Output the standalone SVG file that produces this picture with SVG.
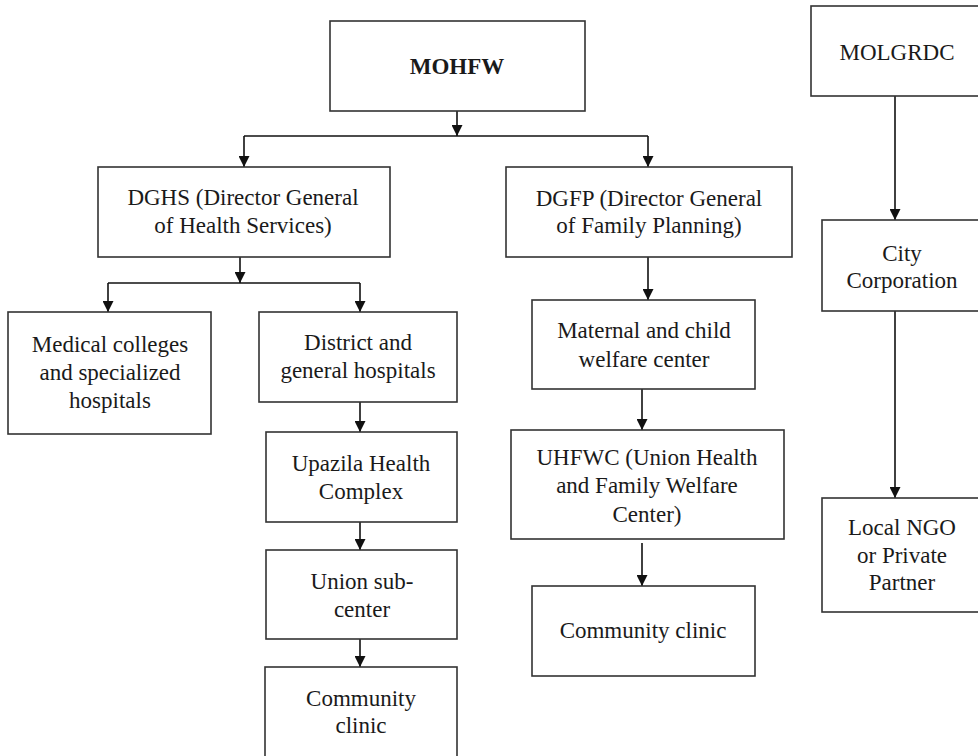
<svg xmlns="http://www.w3.org/2000/svg" width="978" height="756" viewBox="0 0 978 756">
<style>
.box{fill:#fff;stroke:#333;stroke-width:1.6}
.t{font-family:"Liberation Serif","Times New Roman",serif;font-size:23px;fill:#1a1a1a;text-anchor:middle}
.b{font-weight:bold}
.c{stroke:#111;stroke-width:1.6;fill:none}
.a{stroke:#111;stroke-width:1.6;fill:none;marker-end:url(#ah)}
</style>
<defs>
<marker id="ah" viewBox="0 0 10 10" refX="10" refY="5" markerWidth="11" markerHeight="11" markerUnits="userSpaceOnUse" orient="auto">
<path d="M0,0 L10,5 L0,10 z" fill="#111"/>
</marker>
</defs>
<rect width="978" height="756" fill="#fff"/>
<g id="connectors">
<line class="a" x1="457" y1="111" x2="457" y2="136"/>
<line class="c" x1="244" y1="136" x2="648" y2="136"/>
<line class="a" x1="244" y1="136" x2="244" y2="167"/>
<line class="a" x1="648" y1="136" x2="648" y2="167"/>
<line class="a" x1="240" y1="257" x2="240" y2="283"/>
<line class="c" x1="108" y1="283" x2="360" y2="283"/>
<line class="a" x1="108" y1="283" x2="108" y2="312"/>
<line class="a" x1="360" y1="283" x2="360" y2="312"/>
<line class="a" x1="360" y1="402" x2="360" y2="432"/>
<line class="a" x1="360" y1="522" x2="360" y2="550"/>
<line class="a" x1="360" y1="639" x2="360" y2="667"/>
<line class="a" x1="648" y1="257" x2="648" y2="300"/>
<line class="a" x1="642" y1="389" x2="642" y2="430"/>
<line class="a" x1="642" y1="543" x2="642" y2="586"/>
<line class="a" x1="895" y1="96" x2="895" y2="220"/>
<line class="a" x1="895" y1="311" x2="895" y2="498"/>
</g>
<g id="mohfw"><rect class="box" x="330" y="21" width="255" height="90"/><text class="t b" x="457" y="74">MOHFW</text></g>
<g id="dghs"><rect class="box" x="98" y="167" width="292" height="90"/><text class="t" x="243" y="205">DGHS (Director General</text><text class="t" x="243" y="233">of Health Services)</text></g>
<g id="dgfp"><rect class="box" x="506" y="167" width="286" height="90"/><text class="t" x="649" y="206">DGFP (Director General</text><text class="t" x="649" y="233">of Family Planning)</text></g>
<g id="medical"><rect class="box" x="8" y="312" width="203" height="122"/><text class="t" x="110" y="352">Medical colleges</text><text class="t" x="110" y="380">and specialized</text><text class="t" x="110" y="408">hospitals</text></g>
<g id="district"><rect class="box" x="259" y="312" width="198" height="90"/><text class="t" x="358" y="350">District and</text><text class="t" x="358" y="378">general hospitals</text></g>
<g id="upazila"><rect class="box" x="266" y="432" width="191" height="90"/><text class="t" x="361" y="471">Upazila Health</text><text class="t" x="361" y="499">Complex</text></g>
<g id="union"><rect class="box" x="266" y="550" width="191" height="89"/><text class="t" x="362" y="589">Union sub-</text><text class="t" x="362" y="617">center</text></g>
<g id="community-left"><rect class="box" x="265" y="667" width="192" height="100"/><text class="t" x="361" y="706">Community</text><text class="t" x="361" y="733">clinic</text></g>
<g id="maternal"><rect class="box" x="532" y="300" width="223" height="89"/><text class="t" x="644" y="338">Maternal and child</text><text class="t" x="644" y="367">welfare center</text></g>
<g id="uhfwc"><rect class="box" x="511" y="430" width="273" height="109"/><text class="t" x="647" y="465">UHFWC (Union Health</text><text class="t" x="647" y="493">and Family Welfare</text><text class="t" x="647" y="522">Center)</text></g>
<g id="community-right"><rect class="box" x="532" y="586" width="223" height="90"/><text class="t" x="643" y="638">Community clinic</text></g>
<g id="molgrdc"><rect class="box" x="811" y="6" width="180" height="90"/><text class="t" x="897" y="60">MOLGRDC</text></g>
<g id="city"><rect class="box" x="822" y="220" width="170" height="91"/><text class="t" x="902" y="261">City</text><text class="t" x="902" y="288">Corporation</text></g>
<g id="ngo"><rect class="box" x="822" y="498" width="170" height="114"/><text class="t" x="902" y="535">Local NGO</text><text class="t" x="902" y="563">or Private</text><text class="t" x="902" y="590">Partner</text></g>
</svg>
